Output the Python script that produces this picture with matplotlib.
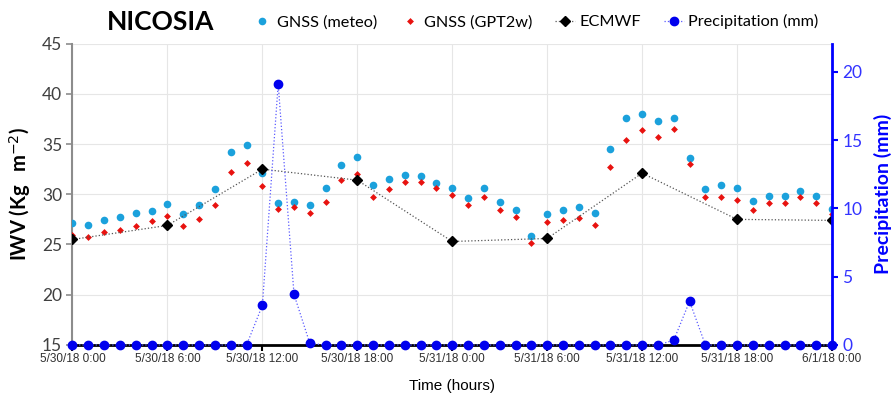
import matplotlib.pyplot as plt
from matplotlib.ticker import MultipleLocator

hours = list(range(49))
gnss_meteo = [27.1, 26.9, 27.4, 27.7, 28.1, 28.3, 29.0, 28.0, 28.9, 30.5,
              34.2, 34.9, 32.1, 29.1, 29.2, 28.9, 30.6, 32.9, 33.7, 30.9,
              31.5, 31.9, 31.8, 31.1, 30.6, 29.6, 30.6, 29.2, 28.4, 25.8,
              28.0, 28.4, 28.7, 28.1, 34.5, 37.6, 38.0, 37.3, 37.6, 33.6,
              30.5, 30.9, 30.6, 29.3, 29.8, 29.8, 30.3, 29.8, 28.5]
gnss_gpt2w = [25.9, 25.7, 26.2, 26.4, 26.8, 27.3, 27.8, 26.8, 27.5, 28.9,
              32.2, 33.1, 30.8, 28.5, 28.7, 28.1, 29.2, 31.4, 32.0, 29.7,
              30.5, 31.2, 31.2, 30.6, 29.9, 28.9, 29.7, 28.4, 27.7, 25.1,
              27.2, 27.4, 27.6, 26.9, 32.7, 35.4, 36.4, 35.7, 36.5, 33.0,
              29.7, 29.7, 29.4, 28.4, 29.1, 29.1, 29.7, 29.1, 28.0]
ecmwf_hours = [0, 6, 12, 18, 24, 30, 36, 42, 48]
ecmwf = [25.5, 26.9, 32.5, 31.4, 25.3, 25.6, 32.1, 27.5, 27.4]
precip = [0, 0, 0, 0, 0, 0, 0, 0, 0, 0, 0, 0, 2.9, 19.1, 3.7, 0.12,
          0, 0, 0, 0, 0, 0, 0, 0, 0, 0, 0, 0, 0, 0, 0, 0, 0, 0, 0, 0,
          0, 0, 0.35, 3.2, 0, 0, 0, 0, 0, 0, 0, 0, 0]
tick_hours = [0, 6, 12, 18, 24, 30, 36, 42, 48]
tick_labels = ['5/30/18 0:00', '5/30/18 6:00', '5/30/18 12:00', '5/30/18 18:00',
               '5/31/18 0:00', '5/31/18 6:00', '5/31/18 12:00', '5/31/18 18:00',
               '6/1/18 0:00']

plt.rcParams['font.family'] = ['Lato', 'DejaVu Sans']
narrow = ['Liberation Sans Narrow', 'Liberation Sans', 'DejaVu Sans']

fig = plt.figure(figsize=(8.95, 3.97), dpi=100)
ax = fig.add_axes([0.081, 0.131, 0.8486, 0.7594])

ax.plot(hours, gnss_meteo, 'o', color='#1ba1dc', ms=5.5, mew=0, label='GNSS (meteo)', zorder=3)
ax.plot(hours, gnss_gpt2w, 'D', color='#e8120f', ms=3.5, mew=0, label='GNSS (GPT2w)', zorder=3)
ax.plot(ecmwf_hours, ecmwf, 'D', ls=':', lw=0.9, color='#555555', mfc='black', mec='black',
        ms=5.5, label='ECMWF', zorder=4)

ax.set_xlim(0, 48)
ax.set_ylim(15, 45)
ax.yaxis.set_major_locator(MultipleLocator(5))
ax.set_xticks(tick_hours)
ax.set_xticklabels(tick_labels, family=narrow, fontsize=8.5)
ax.grid(color='#e6e6e6', lw=0.8)
ax.set_axisbelow(True)
for s in ['top', 'right']:
    ax.spines[s].set_visible(False)
ax.spines['left'].set_color('#8c8c8c')
ax.spines['left'].set_linewidth(1.5)
ax.spines['bottom'].set_color('black')
ax.spines['bottom'].set_linewidth(2)
ax.tick_params(axis='y', colors='#8c8c8c', labelcolor='#404040', labelsize=12.5, length=4, width=1.2)
ax.tick_params(axis='x', length=4, width=1.5, color='black', labelcolor='#303030', pad=2)
ax.set_ylabel(r'IWV (Kg$\ \ $m$^{-2}$)', fontsize=14.5, fontweight='bold', labelpad=6)
ax.set_xlabel('Time (hours)', family=narrow, fontsize=11, labelpad=10)

ax2 = ax.twinx()
ax2.plot(hours, precip, 'o', ls=':', lw=0.9, color='#5a5aff', mfc='#0000ee', mec='#0000ee',
         ms=6, label='Precipitation (mm)', clip_on=False, zorder=5)
ax2.set_ylim(0, 22.07)
ax2.set_xlim(0, 48)
ax2.yaxis.set_major_locator(MultipleLocator(5))
for s in ['top', 'left', 'bottom']:
    ax2.spines[s].set_visible(False)
ax2.spines['right'].set_color('#0000ff')
ax2.spines['right'].set_linewidth(2)
ax2.tick_params(axis='y', colors='#0000ff', labelcolor='#3333ff', labelsize=12.5, length=4, width=1.5)
ax2.set_ylabel('Precipitation (mm)', fontsize=14, fontweight='bold', color='#0000ff', labelpad=8)

h1, l1 = ax.get_legend_handles_labels()
h2, l2 = ax2.get_legend_handles_labels()
fig.legend(h1 + h2, l1 + l2, loc='center left', bbox_to_anchor=(0.282, 0.945), ncol=4,
           frameon=False, fontsize=11.7, handlelength=1.2, handletextpad=0.3,
           columnspacing=1.4, borderpad=0, borderaxespad=0)

fig.text(0.18, 0.945, 'NICOSIA', fontsize=19, fontweight='bold', ha='center', va='center')

fig.savefig('out.png', dpi=100)
